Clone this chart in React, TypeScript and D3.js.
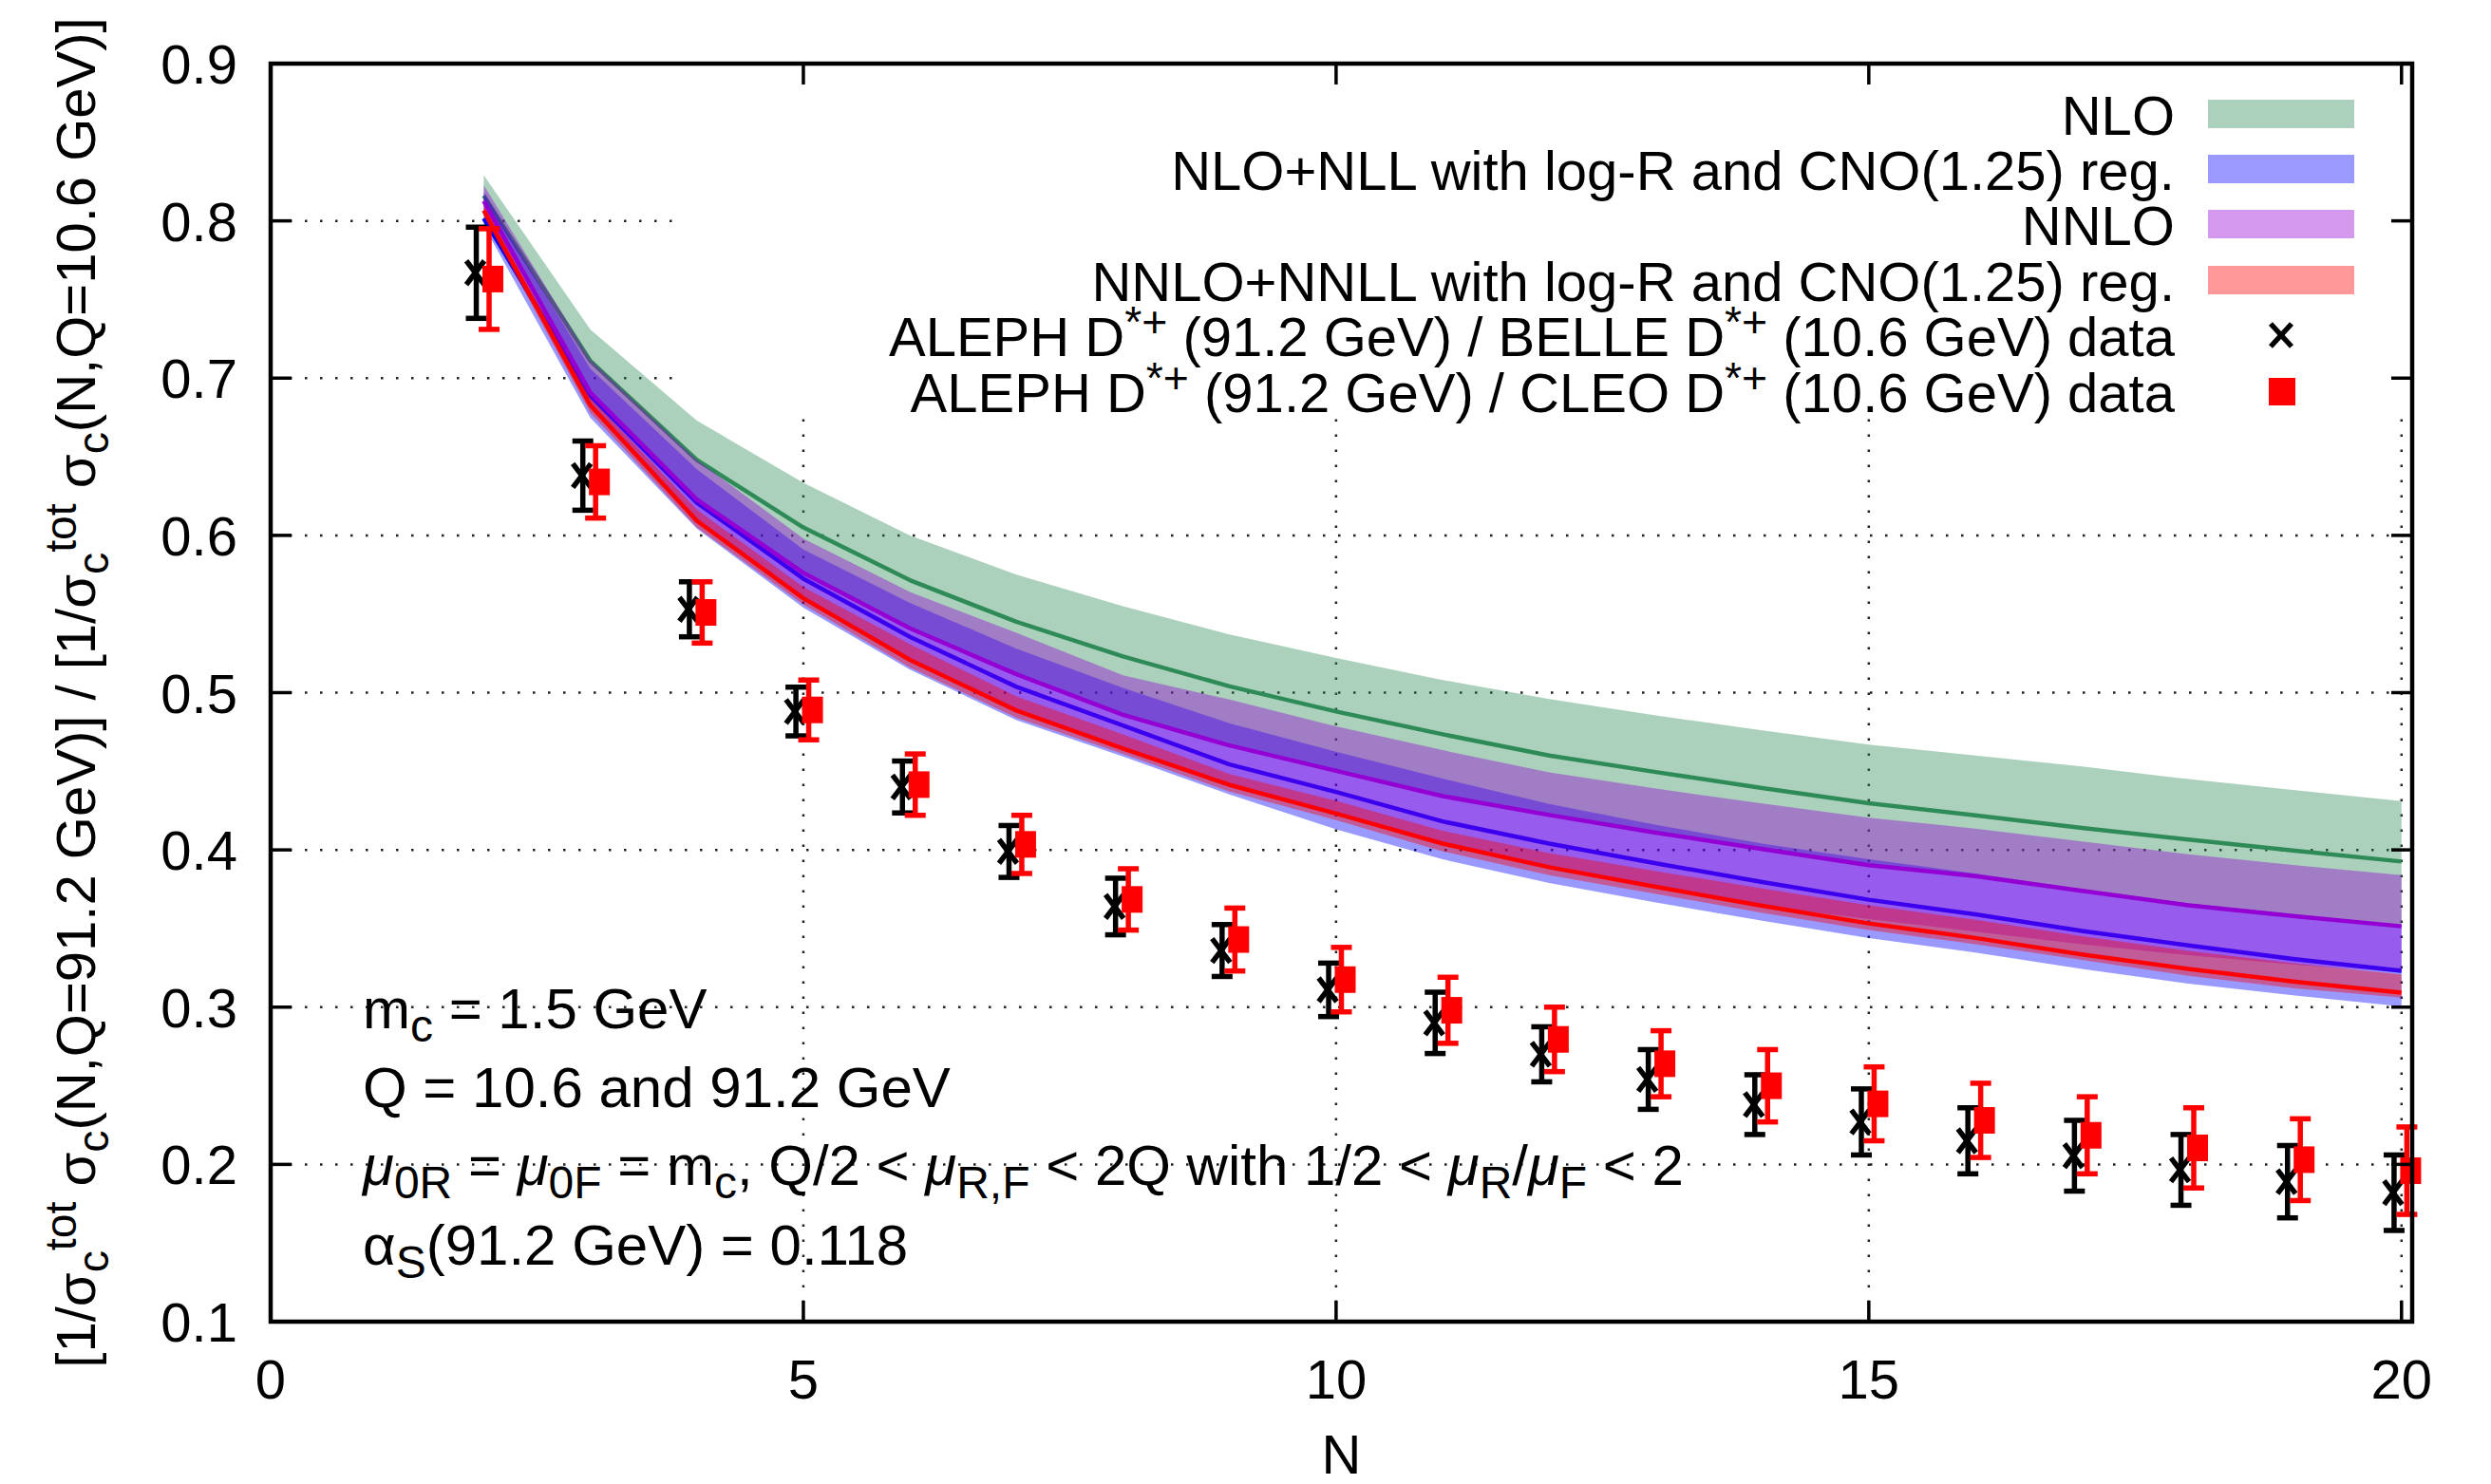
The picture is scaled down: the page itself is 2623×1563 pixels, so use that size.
import React from 'react';
import * as d3 from 'd3';

// ---------------- data ----------------
const N = [2, 3, 4, 5, 6, 7, 8, 9, 10, 11, 12, 13, 14, 15, 16, 17, 18, 19, 20];

// NLO band (green)
const nloHi = [0.829, 0.731, 0.673, 0.6335, 0.600, 0.575, 0.555, 0.537, 0.522, 0.508, 0.496, 0.4855, 0.476, 0.467, 0.460, 0.453, 0.445, 0.438, 0.431];
const nloMid = [0.816, 0.711, 0.648, 0.605, 0.5715, 0.545, 0.523, 0.504, 0.488, 0.4735, 0.460, 0.4495, 0.4393, 0.4296, 0.422, 0.414, 0.4065, 0.3995, 0.3926];
const nloLo = [0.812, 0.690, 0.622, 0.576, 0.541, 0.512, 0.486, 0.466, 0.450, 0.434, 0.422, 0.411, 0.4005, 0.390, 0.383, 0.374, 0.365, 0.358, 0.351];

// NLO+NLL band (blue)
const nllHi = [0.818, 0.706, 0.642, 0.591, 0.557, 0.528, 0.503, 0.4805, 0.4624, 0.4453, 0.4292, 0.416, 0.404, 0.394, 0.385, 0.375, 0.366, 0.359, 0.352];
const nllMid = [0.8016, 0.6889, 0.6208, 0.5725, 0.5355, 0.5037, 0.4791, 0.4543, 0.4368, 0.4181, 0.404, 0.3915, 0.3795, 0.3683, 0.359, 0.3485, 0.3393, 0.3305, 0.3231];
const nllLo = [0.797, 0.6748, 0.6043, 0.554, 0.5147, 0.4825, 0.4594, 0.4352, 0.4131, 0.394, 0.3789, 0.3665, 0.355, 0.344, 0.3347, 0.3243, 0.315, 0.3074, 0.3004];

// NNLO band (violet)
const nnloHi = [0.8227, 0.712, 0.648, 0.598, 0.564, 0.538, 0.511, 0.4956, 0.4785, 0.4634, 0.4493, 0.439, 0.4295, 0.4204, 0.4135, 0.4053, 0.3972, 0.3903, 0.384];
const nnloMid = [0.8126, 0.6909, 0.6228, 0.5761, 0.5409, 0.5117, 0.4859, 0.4664, 0.4503, 0.4342, 0.4222, 0.411, 0.4005, 0.3903, 0.3833, 0.374, 0.3648, 0.3578, 0.3514];
const nnloLo = [0.806, 0.683, 0.609, 0.560, 0.521, 0.489, 0.464, 0.441, 0.423, 0.404, 0.389, 0.3765, 0.3645, 0.356, 0.348, 0.340, 0.333, 0.327, 0.322];

// NNLO+NNLL band (red)
const nnllHi = [0.810, 0.6873, 0.6164, 0.5671, 0.5308, 0.4976, 0.4735, 0.4483, 0.4312, 0.4121, 0.398, 0.3865, 0.3755, 0.3648, 0.3556, 0.3451, 0.3358, 0.3277, 0.3208];
const nnllMid = [0.8066, 0.6828, 0.6093, 0.560, 0.5208, 0.4886, 0.4644, 0.4413, 0.4231, 0.404, 0.389, 0.3765, 0.3645, 0.3532, 0.344, 0.3335, 0.3243, 0.3161, 0.3092];
const nnllLo = [0.803, 0.678, 0.605, 0.556, 0.516, 0.484, 0.461, 0.437, 0.419, 0.399, 0.384, 0.372, 0.360, 0.349, 0.340, 0.330, 0.320, 0.312, 0.306];

// Data: ALEPH/BELLE and ALEPH/CLEO
const belleVal = [0.767, 0.638, 0.553, 0.488, 0.440, 0.399, 0.364, 0.336, 0.311, 0.290, 0.270, 0.254, 0.238, 0.227, 0.215, 0.2055, 0.1965, 0.189, 0.182];
const belleErr = [0.029, 0.022, 0.0175, 0.0155, 0.0165, 0.0165, 0.018, 0.0165, 0.017, 0.0195, 0.0175, 0.019, 0.019, 0.021, 0.021, 0.0225, 0.0225, 0.023, 0.024];
const cleoVal = [0.763, 0.634, 0.551, 0.489, 0.4415, 0.4035, 0.3685, 0.343, 0.3175, 0.298, 0.2795, 0.264, 0.250, 0.2385, 0.228, 0.2185, 0.2105, 0.203, 0.196];
const cleoErr = [0.032, 0.023, 0.0195, 0.019, 0.0195, 0.0185, 0.0195, 0.020, 0.0205, 0.021, 0.0205, 0.021, 0.023, 0.0235, 0.0236, 0.0245, 0.0255, 0.026, 0.0278];

const xTicks = [0, 5, 10, 15, 20];
const yTicks = [0.1, 0.2, 0.3, 0.4, 0.5, 0.6, 0.7, 0.8, 0.9];
const xGrid = [5, 10, 15, 20];
const yGrid = [0.2, 0.3, 0.4, 0.5, 0.6, 0.7, 0.8];

const legendLabels = [
  'NLO',
  'NLO+NLL with log-R and CNO(1.25) reg.',
  'NNLO',
  'NNLO+NNLL with log-R and CNO(1.25) reg.',
];

// ---------------- layout ----------------
const W = 2623;
const H = 1563;
const L = 285, R = 2540, T = 67, B = 1392;
const FONT = '"Liberation Sans", Arial, Helvetica, sans-serif';
const FS = 58;
const FS_ANN = 60;

const x = d3.scaleLinear().domain([0, 20.1]).range([L, R]);
const y = d3.scaleLinear().domain([0.1, 0.9]).range([B, T]);

type Seg = { t: string; s?: 'sub' | 'sup'; it?: boolean };

function Rich(props: { x: number; y: number; segs: Seg[]; anchor?: string; transform?: string; fs?: number }) {
  const fs = props.fs || FS;
  const subShift = 0.24 * fs;
  const supShift = 0.34 * fs;
  let cur = 0;
  const spans = props.segs.map((s, i) => {
    const target = s.s === 'sub' ? subShift : s.s === 'sup' ? -supShift : 0;
    const dy = target - cur;
    cur = target;
    return (
      <tspan key={i} dy={dy} fontSize={s.s ? fs * 0.8 : fs} fontStyle={s.it ? 'italic' : undefined}>
        {s.t}
      </tspan>
    );
  });
  return (
    <text
      x={props.x}
      y={props.y}
      textAnchor={props.anchor || 'start'}
      transform={props.transform}
      fontFamily={FONT}
      fontSize={fs}
      style={{ whiteSpace: 'pre' }}
      fill="#000"
    >
      {spans}
    </text>
  );
}

const bands = [
  { hi: nloHi, mid: nloMid, lo: nloLo, color: '#2e8b57' },
  { hi: nllHi, mid: nllMid, lo: nllLo, color: '#0000ff' },
  { hi: nnloHi, mid: nnloMid, lo: nnloLo, color: '#9400d3' },
  { hi: nnllHi, mid: nnllMid, lo: nnllLo, color: '#ff0000' },
];

export default function App() {
  const area = (hi: number[], lo: number[]) =>
    d3
      .area<number>()
      .x((_, i) => x(N[i]))
      .y0((_, i) => y(lo[i]))
      .y1((_, i) => y(hi[i]))(N);
  const line = (v: number[]) =>
    d3
      .line<number>()
      .x((_, i) => x(N[i]))
      .y((_, i) => y(v[i]))(N);

  const rowY = [120, 178, 236, 295, 353, 412];
  const keyTextX = 2290;
  const keySampleX0 = 2325;
  const keySampleX1 = 2479;
  const keySampleMid = (keySampleX0 + keySampleX1) / 2;

  const dxB = -0.07;
  const dxC = 0.05;
  const capW = 22;
  const ebW = 5.5;

  const cross = (cx: number, cy: number, w: number, h: number, k: string) => (
    <g key={k} stroke="#000" strokeWidth={5.5} strokeLinecap="butt">
      <line x1={cx - w / 2} y1={cy - h / 2} x2={cx + w / 2} y2={cy + h / 2} />
      <line x1={cx - w / 2} y1={cy + h / 2} x2={cx + w / 2} y2={cy - h / 2} />
    </g>
  );

  const annX = 382;

  return (
    <svg
      width={W}
      height={H}
      viewBox={`0 0 ${W} ${H}`}
      style={{ position: 'absolute', left: 0, top: 0, background: '#fff' }}
    >
      <rect x={0} y={0} width={W} height={H} fill="#fff" />

      {/* grid */}
      <g stroke="#222" strokeWidth={2.5} strokeDasharray="2.5 13.5">
        {yGrid.map((v) => (
          <line key={'gy' + v} x1={L + 4} x2={R} y1={y(v)} y2={y(v)} />
        ))}
        {xGrid.map((v) => (
          <line key={'gx' + v} x1={x(v)} x2={x(v)} y1={B - 4} y2={T} />
        ))}
      </g>

      {/* opaque key background */}
      <rect x={720} y={T + 2} width={R - 722} height={441 - T - 2} fill="#fff" />

      {/* theory bands */}
      {bands.map((b, i) => (
        <g key={'band' + i}>
          <path d={area(b.hi, b.lo) || ''} fill={b.color} fillOpacity={0.4} stroke="none" />
          <path d={line(b.mid) || ''} fill="none" stroke={b.color} strokeWidth={4.5} strokeLinejoin="round" />
        </g>
      ))}

      {/* BELLE data */}
      <g>
        {N.map((n, i) => {
          const cx = x(n + dxB);
          const yt = y(belleVal[i] + belleErr[i]);
          const yb = y(belleVal[i] - belleErr[i]);
          return (
            <g key={'b' + n} stroke="#000" strokeWidth={ebW}>
              <line x1={cx} x2={cx} y1={yt} y2={yb} />
              <line x1={cx - capW / 2} x2={cx + capW / 2} y1={yt} y2={yt} />
              <line x1={cx - capW / 2} x2={cx + capW / 2} y1={yb} y2={yb} />
              {cross(cx - 1, y(belleVal[i]), 19, 25, 'bx' + n)}
            </g>
          );
        })}
      </g>

      {/* CLEO data */}
      <g>
        {N.map((n, i) => {
          const cx = x(n + dxC);
          const yt = y(cleoVal[i] + cleoErr[i]);
          const yb = y(cleoVal[i] - cleoErr[i]);
          return (
            <g key={'c' + n}>
              <g stroke="#ff0000" strokeWidth={ebW}>
                <line x1={cx} x2={cx} y1={yt} y2={yb} />
                <line x1={cx - capW / 2} x2={cx + capW / 2} y1={yt} y2={yt} />
                <line x1={cx - capW / 2} x2={cx + capW / 2} y1={yb} y2={yb} />
              </g>
              <rect x={cx + 4 - 11} y={y(cleoVal[i]) - 14} width={22} height={28} fill="#ff0000" />
            </g>
          );
        })}
      </g>

      {/* legend */}
      {legendLabels.map((lab, i) => (
        <g key={'k' + i}>
          <text
            x={keyTextX}
            y={rowY[i] + 22}
            textAnchor="end"
            fontFamily={FONT}
            fontSize={FS}
            style={{ whiteSpace: 'pre' }}
          >
            {lab}
          </text>
          <rect
            x={keySampleX0}
            y={rowY[i] - 15}
            width={keySampleX1 - keySampleX0}
            height={30}
            fill={bands[i].color}
            fillOpacity={0.4}
          />
        </g>
      ))}
      <Rich
        x={keyTextX}
        y={rowY[4] + 22}
        anchor="end"
        segs={[
          { t: 'ALEPH D' },
          { t: '*+', s: 'sup' },
          { t: ' (91.2 GeV) / BELLE D' },
          { t: '*+', s: 'sup' },
          { t: ' (10.6 GeV) data' },
        ]}
      />
      {cross(keySampleMid, rowY[4], 22, 24, 'kx')}
      <Rich
        x={keyTextX}
        y={rowY[5] + 22}
        anchor="end"
        segs={[
          { t: 'ALEPH D' },
          { t: '*+', s: 'sup' },
          { t: ' (91.2 GeV) / CLEO D' },
          { t: '*+', s: 'sup' },
          { t: ' (10.6 GeV) data' },
        ]}
      />
      <rect x={keySampleMid - 13} y={rowY[5] - 14} width={28} height={29} fill="#ff0000" />

      {/* annotations */}
      <Rich x={annX} y={1083} fs={FS_ANN} segs={[{ t: 'm' }, { t: 'c', s: 'sub' }, { t: ' = 1.5 GeV' }]} />
      <Rich x={annX} y={1166} fs={FS_ANN} segs={[{ t: 'Q = 10.6 and 91.2 GeV' }]} />
      <Rich
        x={annX}
        y={1248}
        fs={FS_ANN}
        segs={[
          { t: 'μ', it: true },
          { t: '0R', s: 'sub' },
          { t: ' = ' },
          { t: 'μ', it: true },
          { t: '0F', s: 'sub' },
          { t: ' = m' },
          { t: 'c', s: 'sub' },
          { t: ', Q/2 < ' },
          { t: 'μ', it: true },
          { t: 'R,F', s: 'sub' },
          { t: ' < 2Q with 1/2 < ' },
          { t: 'μ', it: true },
          { t: 'R', s: 'sub' },
          { t: '/' },
          { t: 'μ', it: true },
          { t: 'F', s: 'sub' },
          { t: ' < 2' },
        ]}
      />
      <Rich x={annX} y={1332} fs={FS_ANN} segs={[{ t: 'α' }, { t: 'S', s: 'sub' }, { t: '(91.2 GeV) = 0.118' }]} />

      {/* ticks */}
      <g stroke="#000" strokeWidth={3.5}>
        {xTicks.map((v) => (
          <g key={'tx' + v}>
            <line x1={x(v)} x2={x(v)} y1={B} y2={B - 22} />
            <line x1={x(v)} x2={x(v)} y1={T} y2={T + 22} />
          </g>
        ))}
        {yTicks.map((v) => (
          <g key={'ty' + v}>
            <line x1={L} x2={L + 22} y1={y(v)} y2={y(v)} />
            <line x1={R} x2={R - 22} y1={y(v)} y2={y(v)} />
          </g>
        ))}
      </g>

      {/* frame */}
      <rect x={L} y={T} width={R - L} height={B - T} fill="none" stroke="#000" strokeWidth={4.5} />

      {/* tick labels */}
      {xTicks.map((v) => (
        <text key={'lx' + v} x={x(v)} y={1473} textAnchor="middle" fontFamily={FONT} fontSize={FS}>
          {d3.format('d')(v)}
        </text>
      ))}
      {yTicks.map((v) => (
        <text key={'ly' + v} x={250} y={y(v) + 21} textAnchor="end" fontFamily={FONT} fontSize={FS}>
          {d3.format('.1f')(v)}
        </text>
      ))}

      {/* axis titles */}
      <text x={(L + R) / 2} y={1552} textAnchor="middle" fontFamily={FONT} fontSize={FS}>
        N
      </text>
      <Rich
        x={0}
        y={0}
        anchor="middle"
        transform={`translate(100, ${(T + B) / 2}) rotate(-90)`}
        segs={[
          { t: '[1/σ' },
          { t: 'c', s: 'sub' },
          { t: 'tot', s: 'sup' },
          { t: ' σ' },
          { t: 'c', s: 'sub' },
          { t: '(N,Q=91.2 GeV)] / [1/σ' },
          { t: 'c', s: 'sub' },
          { t: 'tot', s: 'sup' },
          { t: ' σ' },
          { t: 'c', s: 'sub' },
          { t: '(N,Q=10.6 GeV)]' },
        ]}
      />
    </svg>
  );
}
